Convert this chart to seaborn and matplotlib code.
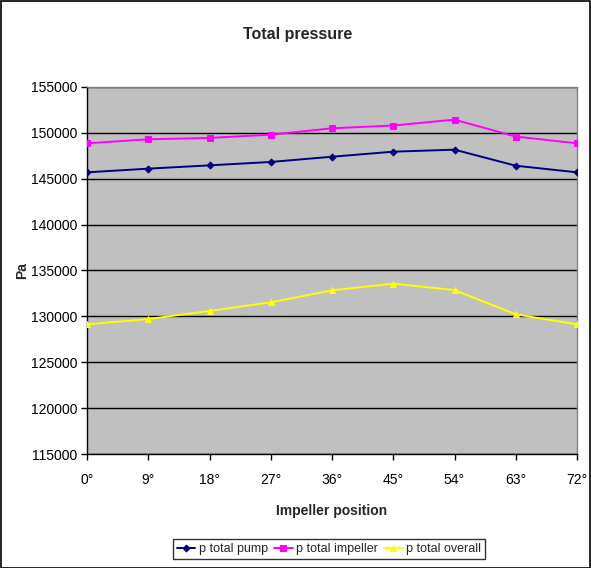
import matplotlib
matplotlib.use("Agg")
import matplotlib.pyplot as plt
import seaborn as sns
import pandas as pd
from matplotlib.patches import Rectangle

# Impeller positions (degrees) and total pressures (Pa)
angles = [0, 9, 18, 27, 36, 45, 54, 63, 72]
tick_labels = ["0°", "9°", "18°", "27°", "36°", "45°", "54°", "63°", "72°"]
p_total_pump = [145700, 146100, 146460, 146830, 147400, 147950, 148170, 146420, 145700]
p_total_impeller = [148860, 149300, 149450, 149800, 150500, 150800, 151440, 149600, 148860]
p_total_overall = [129130, 129710, 130590, 131530, 132840, 133560, 132870, 130220, 129130]

series_names = ["p total pump", "p total impeller", "p total overall"]

df = pd.DataFrame({
    "angle": angles * 3,
    "pressure": p_total_pump + p_total_impeller + p_total_overall,
    "series": [n for n in series_names for _ in angles],
})

sns.set_theme(style="white")
plt.rcParams["font.family"] = ["Liberation Sans", "DejaVu Sans"]

fig = plt.figure(figsize=(5.91, 5.68), dpi=100)
ax = fig.add_axes([87 / 591, 114 / 568, 490 / 591, 367 / 568])
ax.set_facecolor("#C0C0C0")

palette = {"p total pump": "#000080", "p total impeller": "#FF00FF", "p total overall": "#FFFF00"}
markers = {"p total pump": "D", "p total impeller": "s", "p total overall": "^"}
sizes = {"p total pump": 3.5, "p total impeller": 4.5, "p total overall": 5}

for name in series_names:
    sub = df[df["series"] == name]
    sns.lineplot(data=sub, x="angle", y="pressure", color=palette[name],
                 marker=markers[name], markersize=sizes[name],
                 markeredgecolor=palette[name], linewidth=1.4, ax=ax,
                 label=name, zorder=3)

ax.set_xlim(0, 72)
ax.set_ylim(115000, 155000)
ax.set_xticks(angles)
ax.set_xticklabels(tick_labels)
ax.set_yticks(range(115000, 155001, 5000))
ax.yaxis.grid(True, color="black", linewidth=1.0)
ax.set_axisbelow(True)

for side in ["top", "right"]:
    ax.spines[side].set_color("#808080")
    ax.spines[side].set_linewidth(1.0)
for side in ["left", "bottom"]:
    ax.spines[side].set_color("black")
    ax.spines[side].set_linewidth(1.0)

ax.tick_params(axis="both", which="major", direction="out", length=4, width=1,
               color="black", labelsize=10, labelcolor="black",
               bottom=True, left=True)
ax.tick_params(axis="x", pad=10)
ax.tick_params(axis="y", pad=3)

ax.set_xlabel("Impeller position", fontsize=10, fontweight="bold", labelpad=12)
ax.set_ylabel("Pa", fontsize=10, fontweight="bold", labelpad=1)
fig.text(298 / 591, 1 - 35 / 568, "Total pressure", ha="center", va="center",
         fontsize=11.5, fontweight="bold")

leg = ax.legend(loc="center", bbox_to_anchor=(329 / 591, 1 - 549 / 568),
                bbox_transform=fig.transFigure, ncol=3, frameon=True,
                fontsize=9, handlelength=1.5, handletextpad=0.3,
                columnspacing=0.45, borderpad=0.3, borderaxespad=0,
                fancybox=False)
leg.get_frame().set_edgecolor("black")
leg.get_frame().set_linewidth(1.0)

fig.patches.append(Rectangle((0.5 / 591, 0.5 / 568), 589.5 / 591, 566.5 / 568,
                             transform=fig.transFigure, fill=False,
                             edgecolor="black", linewidth=1.2))

fig.savefig("out.png", dpi=100)
